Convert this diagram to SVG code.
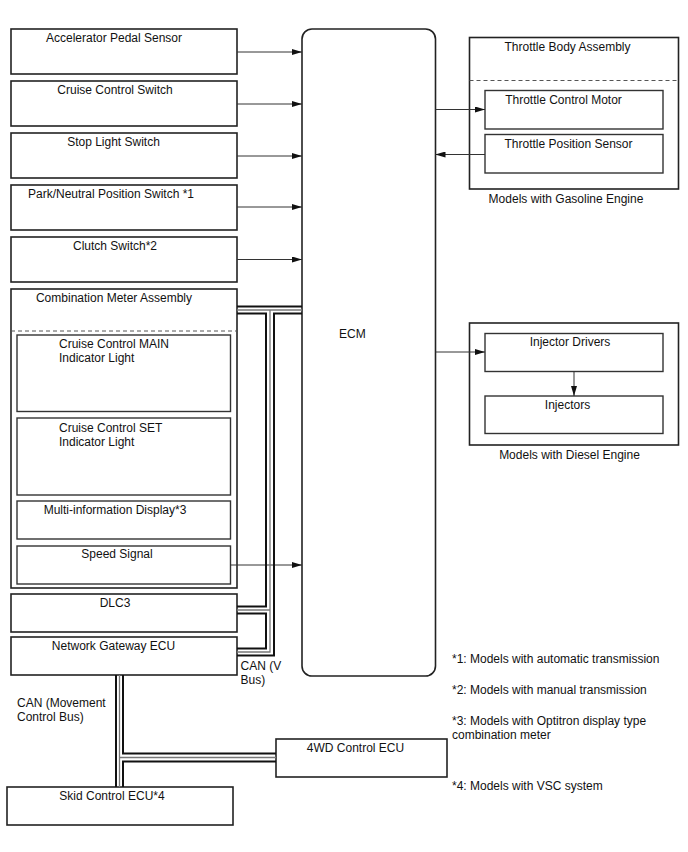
<svg xmlns="http://www.w3.org/2000/svg" width="688" height="852" viewBox="0 0 688 852">
<defs>
<style>
text{font-family:"Liberation Sans",Arial,sans-serif;font-size:12px;fill:#111}
.m{text-anchor:middle}
.box{fill:#fff;stroke:#222;stroke-width:1.6}
.ibox{fill:#fff;stroke:#333;stroke-width:1.4}
.dash{fill:none;stroke:#555;stroke-width:1;stroke-dasharray:4 3}
.arr{fill:none;stroke:#333;stroke-width:1;marker-end:url(#ah)}
.bk{fill:none;stroke:#111;stroke-width:2}
.gr{fill:none;stroke:#777;stroke-width:1.3}
</style>
<marker id="ah" viewBox="0 0 10 6" refX="10" refY="3" markerWidth="10" markerHeight="6" markerUnits="userSpaceOnUse" orient="auto">
<path d="M0,0 L10,3 L0,6 Z" fill="#111"/>
</marker>
</defs>
<rect width="688" height="852" fill="#fff"/>

<g id="accel"><rect class="box" x="11" y="29" width="226" height="45"/><text class="m" x="114" y="42">Accelerator Pedal Sensor</text></g>
<g id="ccswitch"><rect class="box" x="11" y="81" width="226" height="45"/><text class="m" x="115" y="94">Cruise Control Switch</text></g>
<g id="stoplight"><rect class="box" x="11" y="133" width="226" height="45"/><text class="m" x="113.5" y="146">Stop Light Switch</text></g>
<g id="parkneutral"><rect class="box" x="11" y="185" width="226" height="45"/><text class="m" x="111" y="198">Park/Neutral Position Switch *1</text></g>
<g id="clutch"><rect class="box" x="11" y="237" width="226" height="45"/><text class="m" x="115" y="250">Clutch Switch*2</text></g>

<g id="combmeter">
<rect class="box" x="11" y="289" width="226" height="299"/>
<text class="m" x="114" y="302">Combination Meter Assembly</text>
<line class="dash" x1="11" y1="331" x2="237" y2="331"/>
<g id="mainlight"><rect class="ibox" x="17" y="335" width="213.5" height="76.5"/><text x="59" y="348">Cruise Control MAIN</text><text x="59" y="362">Indicator Light</text></g>
<g id="setlight"><rect class="ibox" x="17" y="418" width="213.5" height="77"/><text x="59" y="432">Cruise Control SET</text><text x="59" y="446">Indicator Light</text></g>
<g id="multiinfo"><rect class="ibox" x="17" y="501" width="213.5" height="38"/><text class="m" x="115" y="514">Multi-information Display*3</text></g>
<g id="speed"><rect class="ibox" x="17" y="546" width="213.5" height="38"/><text class="m" x="117" y="558">Speed Signal</text></g>
</g>

<g id="dlc3"><rect class="box" x="11" y="594" width="226" height="38"/><text class="m" x="115" y="607">DLC3</text></g>
<g id="gateway"><rect class="box" x="11" y="637" width="226" height="38"/><text class="m" x="113.5" y="650">Network Gateway ECU</text></g>
<g id="skid"><rect class="box" x="7" y="787" width="226" height="38"/><text class="m" x="112" y="800">Skid Control ECU*4</text></g>
<g id="fourwd"><rect class="box" x="276" y="739" width="171" height="38"/><text class="m" x="355.5" y="752">4WD Control ECU</text></g>

<g id="ecm"><rect class="box" x="302" y="29" width="133.5" height="647" rx="10" ry="10"/><text x="339" y="338">ECM</text></g>

<g id="throttlebody">
<rect class="box" x="469.5" y="37.5" width="209" height="151.5"/>
<text class="m" x="567.5" y="51">Throttle Body Assembly</text>
<line class="dash" x1="469.5" y1="80.5" x2="678.5" y2="80.5"/>
<g id="tcmotor"><rect class="ibox" x="485" y="90.5" width="178" height="38.5"/><text class="m" x="563.5" y="103.5">Throttle Control Motor</text></g>
<g id="tpsensor"><rect class="ibox" x="485" y="134.5" width="178" height="38.5"/><text class="m" x="568.5" y="147.5">Throttle Position Sensor</text></g>
</g>
<text class="m" x="566" y="202.5">Models with Gasoline Engine</text>

<g id="diesel">
<rect class="box" x="469.5" y="323" width="209" height="122"/>
<g id="injdrivers"><rect class="ibox" x="485" y="333.5" width="178" height="38"/><text class="m" x="570" y="346">Injector Drivers</text></g>
<g id="injectors"><rect class="ibox" x="485" y="396" width="178" height="37.5"/><text class="m" x="567.5" y="408.5">Injectors</text></g>
</g>
<text class="m" x="569.5" y="458.5">Models with Diesel Engine</text>

<text x="240.5" y="670">CAN (V</text>
<text x="240.5" y="684">Bus)</text>
<text x="17" y="707">CAN (Movement</text>
<text x="17" y="721">Control Bus)</text>

<text x="452" y="662.5">*1: Models with automatic transmission</text>
<text x="452" y="694">*2: Models with manual transmission</text>
<text x="452" y="725">*3: Models with Optitron display type</text>
<text x="452" y="739">combination meter</text>
<text x="452" y="790">*4: Models with VSC system</text>

<g id="connectors">
<line class="arr" x1="237" y1="52" x2="302" y2="52"/>
<line class="arr" x1="237" y1="104" x2="302" y2="104"/>
<line class="arr" x1="237" y1="156" x2="302" y2="156"/>
<line class="arr" x1="237" y1="207" x2="302" y2="207"/>
<line class="arr" x1="237" y1="259.5" x2="302" y2="259.5"/>
<line class="arr" x1="230.5" y1="565" x2="302" y2="565"/>
<line class="arr" x1="435.5" y1="109.5" x2="485" y2="109.5"/>
<line class="arr" x1="485" y1="154.5" x2="435.5" y2="154.5"/>
<line class="arr" x1="435.5" y1="352" x2="485" y2="352"/>
<line class="arr" x1="574" y1="371.5" x2="574" y2="396"/>

<g id="vbus">
<path class="bk" d="M237,306.5 H302"/>
<path class="bk" d="M237,313.5 H266 V606.5 H237"/>
<path class="bk" d="M302,313.5 H274 V655.5 H237"/>
<path class="bk" d="M237,613.5 H266 V648.5 H237"/>
<path class="gr" d="M237,310 H302"/>
<path class="gr" d="M270,310 V652 H237"/>
<path class="gr" d="M237,610 H270"/>
</g>
<g id="mbus">
<path class="bk" d="M116,675 V787"/>
<path class="bk" d="M123,675 V753.5 H276"/>
<path class="bk" d="M276,761.5 H123 V787"/>
<path class="gr" d="M119.5,675 V787"/>
<path class="gr" d="M119.5,757.5 H276"/>
</g>
</g>
</svg>
